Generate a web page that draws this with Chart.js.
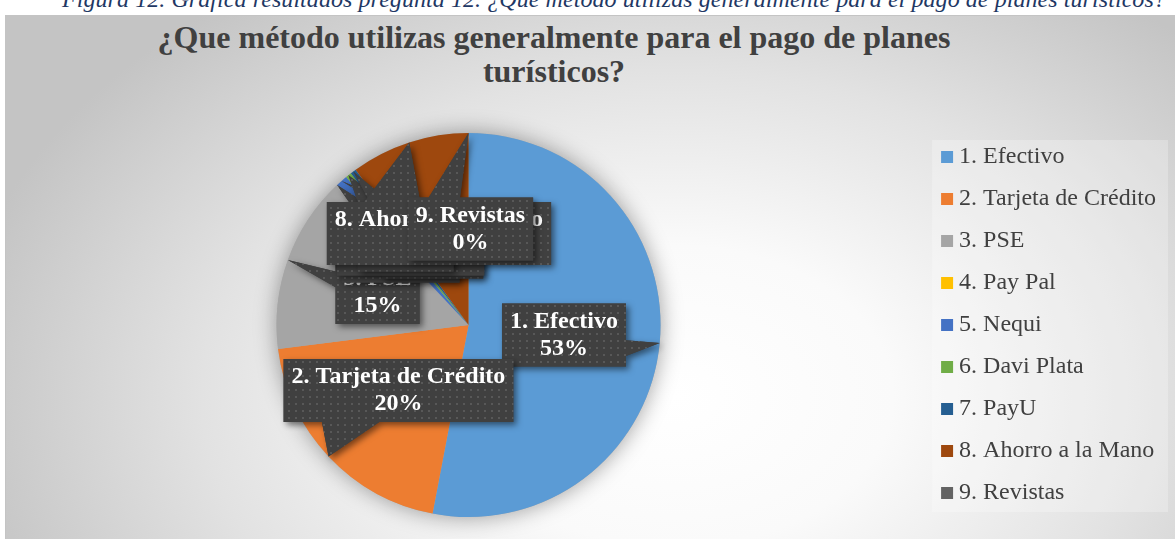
<!DOCTYPE html>
<html><head><meta charset="utf-8">
<script src="https://cdn.jsdelivr.net/npm/chart.js@4.4.0/dist/chart.umd.min.js"></script>
<style>
html,body{margin:0;padding:0;background:#fff;width:1175px;height:539px;overflow:hidden;position:relative;}
#caption{position:absolute;left:62px;top:-13px;font:italic 24px 'Liberation Serif';letter-spacing:0.07px;color:#1F3864;white-space:nowrap;line-height:24px;}
#frame{position:absolute;left:5px;top:15px;width:1175px;height:530px;box-sizing:border-box;border:1px solid #c4c4c4;
 background:radial-gradient(ellipse 62% 95% at 57% 72%, #ffffff 0%, #fafafa 30%, #e2e2e2 65%, #c4c4c4 100%);}
#title{position:absolute;left:0;width:1108px;top:20px;text-align:center;font:bold 32px 'Liberation Serif';line-height:34px;color:#404040;}
#wrap{position:absolute;left:5px;top:15px;width:1167px;height:523px;}
</style></head>
<body>
<div id="caption"></div>
<div id="frame"></div>
<div id="title"></div>
<div id="wrap"><canvas id="c" width="1167" height="523"></canvas></div>
<script>
const captionText = 'Figura 12. Gráfica resultados pregunta 12. ¿Que método utilizas generalmente para el pago de planes turísticos?';
const titleLines = ['¿Que método utilizas generalmente para el pago de planes', 'turísticos?'];
const categories = ['1. Efectivo', '2. Tarjeta de Crédito', '3. PSE', '4. Pay Pal', '5. Nequi', '6. Davi Plata', '7. PayU', '8. Ahorro a la Mano', '9. Revistas'];
const responses = [106, 40, 30, 0, 2, 1, 1, 20, 0];
const sliceColors = ['#5B9BD5', '#ED7D31', '#A5A5A5', '#FFC000', '#4472C4', '#70AD47', '#255E91', '#9E480E', '#636363'];

document.getElementById('caption').textContent = captionText;
const tEl = document.getElementById('title');
titleLines.forEach((l, i) => { if (i) tEl.appendChild(document.createElement('br')); tEl.appendChild(document.createTextNode(l)); });

// callout box centres, relative to pie centre in units of the pie radius
const calloutAt = [[0.497, 0.052], [-0.365, 0.341], [-0.474, -0.169], [-0.354, -0.385], [-0.1875, -0.406], [-0.302, -0.422], [-0.328, -0.443], [-0.154, -0.477], [0.010, -0.5]];

const total = responses.reduce((a, b) => a + b, 0);
const pctText = v => Math.round(v / total * 100) + '%';

function makePattern(ctx) {
  const c = document.createElement('canvas'); c.width = 7; c.height = 7;
  const g = c.getContext('2d');
  g.fillStyle = '#404040'; g.fillRect(0, 0, 7, 7);
  g.fillStyle = '#585858'; g.fillRect(3, 3, 2, 2);
  return ctx.createPattern(c, 'repeat');
}

function calloutPath(ctx, l, t, w, h, tx, ty) {
  const r = l + w, b = t + h, hc = l + w / 2, vc = t + h / 2;
  const dx = tx - hc, dy = ty - vc;
  const dq = dx * h / w;
  const dz = Math.abs(dy) - Math.abs(dq);
  const x1 = l + w * (dx > 0 ? 7 : 2) / 12, x2 = l + w * (dx > 0 ? 10 : 5) / 12;
  const y1 = t + h * (dy > 0 ? 7 : 2) / 12, y2 = t + h * (dy > 0 ? 10 : 5) / 12;
  const inside = tx >= l && tx <= r && ty >= t && ty <= b;
  ctx.beginPath();
  ctx.moveTo(l, t);
  if (!inside && dz > 0 && dy < 0) { ctx.lineTo(x1, t); ctx.lineTo(tx, ty); ctx.lineTo(x2, t); }
  ctx.lineTo(r, t);
  if (!inside && dz <= 0 && dx > 0) { ctx.lineTo(r, y1); ctx.lineTo(tx, ty); ctx.lineTo(r, y2); }
  ctx.lineTo(r, b);
  if (!inside && dz > 0 && dy > 0) { ctx.lineTo(x2, b); ctx.lineTo(tx, ty); ctx.lineTo(x1, b); }
  ctx.lineTo(l, b);
  if (!inside && dz <= 0 && dx < 0) { ctx.lineTo(l, y2); ctx.lineTo(tx, ty); ctx.lineTo(l, y1); }
  ctx.closePath();
}

const pieShadow = {
  id: 'pieShadow',
  beforeDatasetsDraw(chart) {
    const arc = chart.getDatasetMeta(0).data[0];
    if (!arc) return;
    const ctx = chart.ctx;
    ctx.save();
    ctx.shadowColor = 'rgba(0,0,0,0.38)';
    ctx.shadowBlur = 22;
    ctx.fillStyle = '#aaaaaa';
    ctx.beginPath(); ctx.arc(arc.x, arc.y, arc.outerRadius, 0, Math.PI * 2); ctx.fill();
    ctx.restore();
  }
};

const legendPanel = {
  id: 'legendPanel',
  beforeDraw(chart) {
    const lg = chart.legend;
    if (!lg || !lg.legendHitBoxes || !lg.legendHitBoxes.length) return;
    const hb = lg.legendHitBoxes;
    const top = hb[0].top - 5, bottom = hb[hb.length - 1].top + hb[hb.length - 1].height + 7;
    const ctx = chart.ctx;
    ctx.save();
    ctx.fillStyle = 'rgba(255,255,255,0.25)';
    ctx.fillRect(lg.left + 3, top, lg.right - lg.left - 1, bottom - top);
    ctx.restore();
  }
};

const callouts = {
  id: 'callouts',
  afterDatasetsDraw(chart) {
    const meta = chart.getDatasetMeta(0);
    const ctx = chart.ctx;
    const pattern = makePattern(ctx);
    const font = "bold 24px 'Liberation Serif'";
    const lineGap = 27, boxH = 63;
    meta.data.forEach((arc, i) => {
      const p = arc.getProps(['x', 'y', 'startAngle', 'endAngle', 'outerRadius'], true);
      const R = p.outerRadius;
      const mid = (p.startAngle + p.endAngle) / 2;
      const tx = p.x + Math.cos(mid) * R, ty = p.y + Math.sin(mid) * R;
      const lines = [categories[i], pctText(responses[i])];
      ctx.save();
      ctx.font = font;
      const w = Math.max(...lines.map(s => ctx.measureText(s).width)) + 16;
      const cx = p.x + calloutAt[i][0] * R, cy = p.y + calloutAt[i][1] * R;
      const l = cx - w / 2, t = cy - boxH / 2;
      calloutPath(ctx, l, t, w, boxH, tx, ty);
      ctx.shadowColor = 'rgba(0,0,0,0.5)';
      ctx.shadowBlur = 6; ctx.shadowOffsetX = 3; ctx.shadowOffsetY = 3;
      ctx.fillStyle = '#404040';
      ctx.fill();
      ctx.shadowColor = 'transparent';
      ctx.fillStyle = pattern;
      ctx.fill();
      ctx.fillStyle = '#ffffff';
      ctx.textAlign = 'center';
      ctx.textBaseline = 'middle';
      ctx.fillText(lines[0], cx, cy - lineGap / 2);
      ctx.fillText(lines[1], cx, cy + lineGap / 2);
      ctx.restore();
    });
  }
};

new Chart(document.getElementById('c'), {
  type: 'pie',
  data: {
    labels: categories,
    datasets: [{ data: responses, backgroundColor: sliceColors, borderWidth: 0, radius: 192 }]
  },
  options: {
    responsive: false,
    animation: false,
    events: [],
    layout: { padding: { left: 3, right: 6, top: 97, bottom: 0 } },
    plugins: {
      title: { display: false },
      tooltip: { enabled: false },
      legend: {
        position: 'right',
        labels: {
          usePointStyle: true,
          pointStyle: 'rect',
          boxWidth: 0.01,
          boxHeight: 12,
          padding: 18,
          color: '#404040',
          font: { family: 'Liberation Serif', size: 24 }
        }
      }
    }
  },
  plugins: [pieShadow, legendPanel, callouts]
});
</script>
</body></html>
